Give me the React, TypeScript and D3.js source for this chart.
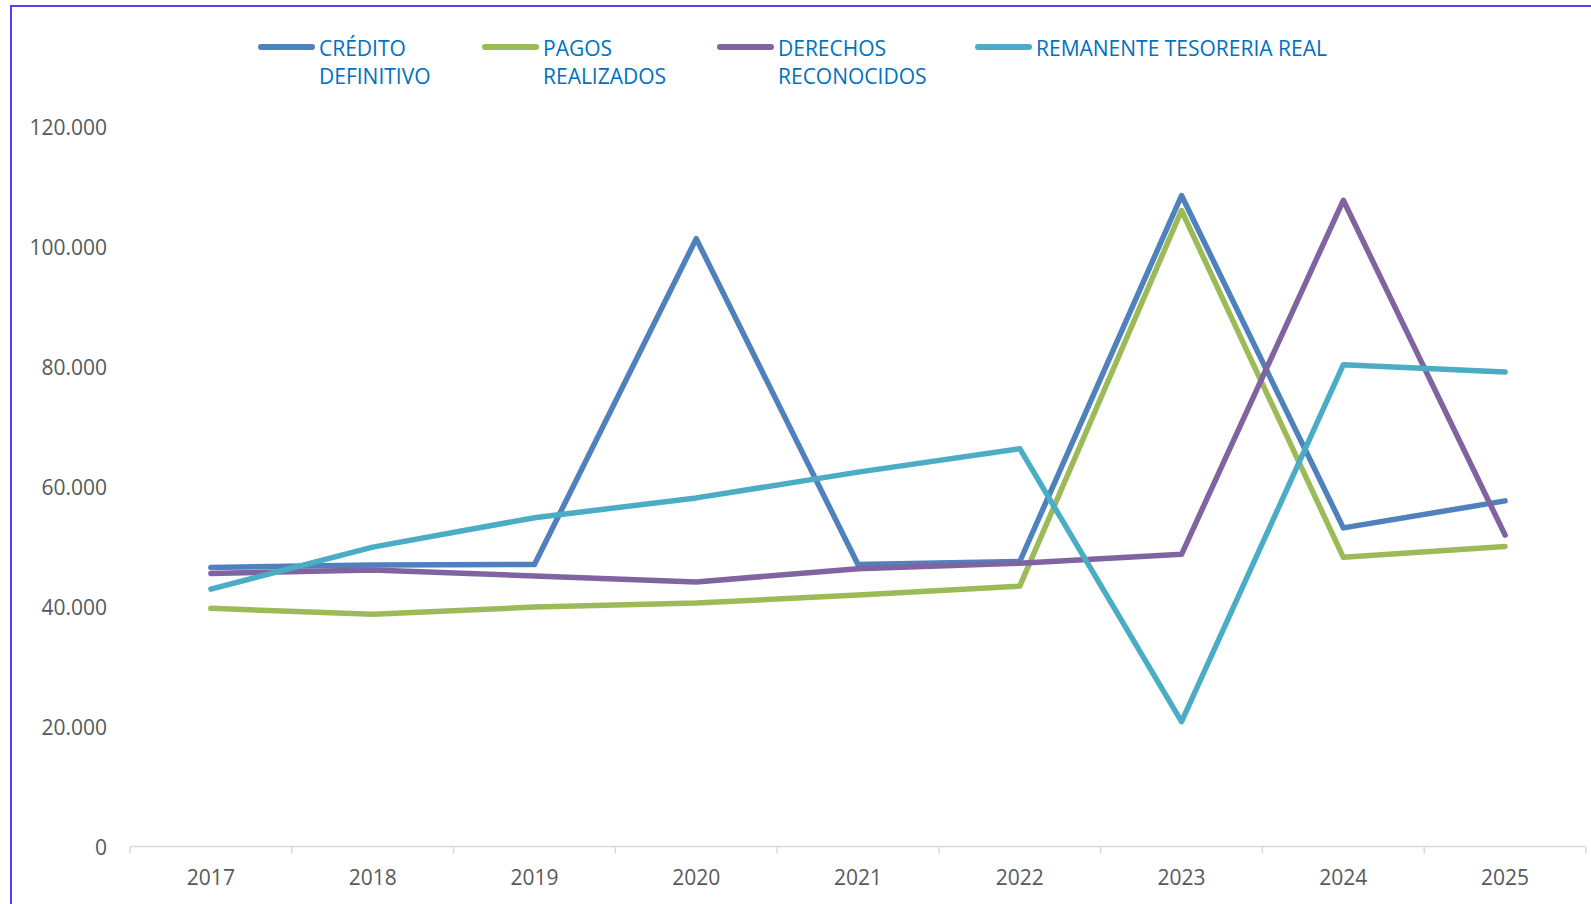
import React from "react";
import * as d3 from "d3";

const years = ["2017", "2018", "2019", "2020", "2021", "2022", "2023", "2024", "2025"];
const creditoDefinitivo = [46500, 46900, 47000, 101300, 47000, 47500, 108500, 53100, 57600];
const pagosRealizados = [39700, 38700, 39900, 40600, 41900, 43400, 106000, 48200, 50000];
const derechosReconocidos = [45500, 46100, 45100, 44100, 46300, 47200, 48700, 107700, 51900];
const remanenteTesoreria = [42900, 49900, 54800, 58100, 62400, 66300, 20800, 80300, 79100];
const seriesNames = [["CRÉDITO", "DEFINITIVO"], ["PAGOS", "REALIZADOS"], ["DERECHOS", "RECONOCIDOS"], ["REMANENTE TESORERIA REAL"]];
const yTicks = [0, 20000, 40000, 60000, 80000, 100000, 120000];

const colors = ["#4F81BD", "#9BBB59", "#8064A2", "#4BACC6"];
const W = 1591;
const H = 904;
const legendX = [261, 485, 720, 978];

export default function App() {
  const seriesValues = [creditoDefinitivo, pagosRealizados, derechosReconocidos, remanenteTesoreria];
  const x = d3.scaleBand<string>().domain(years).range([130, 1586]);
  const y = d3.scaleLinear().domain([0, 120000]).range([846.5, 126.5]);
  const fmt = (v: number) => d3.format(",")(v).replace(/,/g, ".");
  const line = d3
    .line<number>()
    .x((_, i) => (x(years[i]) as number) + x.bandwidth() / 2)
    .y((d) => y(d));
  const tickXs = years.map((yr) => x(yr) as number).concat([x.range()[1]]);
  const axisFont = "'Open Sans', 'Noto Sans', sans-serif";
  const legendFont = "'Open Sans', sans-serif";

  return (
    <svg width={W} height={H} style={{ position: "absolute", left: 0, top: 0, background: "#fff" }}>
      <rect x={0} y={0} width={W} height={H} fill="#fff" />
      <path d={`M11,${H} L11,6 L${W},6`} fill="none" stroke="#5B3CF2" strokeWidth={2} />

      {/* y-axis labels */}
      {yTicks.map((t) => (
        <text
          key={t}
          x={107}
          y={y(t)}
          textAnchor="end"
          dominantBaseline="central"
          fontFamily={axisFont}
          fontSize={21}
          fill="#595959"
        >
          {fmt(t)}
        </text>
      ))}

      {/* x axis */}
      <line x1={x.range()[0]} x2={x.range()[1]} y1={y(0)} y2={y(0)} stroke="#D9D9D9" strokeWidth={1.5} />
      {tickXs.map((tx, i) => (
        <line key={i} x1={tx} x2={tx} y1={y(0)} y2={y(0) + 7} stroke="#D9D9D9" strokeWidth={1.5} />
      ))}
      {years.map((yr) => (
        <text
          key={yr}
          x={(x(yr) as number) + x.bandwidth() / 2}
          y={877}
          textAnchor="middle"
          dominantBaseline="central"
          fontFamily={axisFont}
          fontSize={21}
          fill="#595959"
        >
          {yr}
        </text>
      ))}

      {/* lines */}
      {seriesValues.map((vals, i) => (
        <path
          key={i}
          d={line(vals) as string}
          fill="none"
          stroke={colors[i]}
          strokeWidth={5.5}
          strokeLinejoin="round"
          strokeLinecap="round"
        />
      ))}

      {/* legend */}
      {seriesNames.map((lines, i) => (
        <g key={i}>
          <line
            x1={legendX[i]}
            x2={legendX[i] + 51}
            y1={47}
            y2={47}
            stroke={colors[i]}
            strokeWidth={6}
            strokeLinecap="round"
          />
          {lines.map((l, j) => (
            <text
              key={j}
              x={legendX[i] + 58}
              y={47.5 + j * 28.5}
              dominantBaseline="central"
              fontFamily={legendFont}
              fontSize={21}
              fill="#0070C0"
            >
              {l}
            </text>
          ))}
        </g>
      ))}
    </svg>
  );
}
